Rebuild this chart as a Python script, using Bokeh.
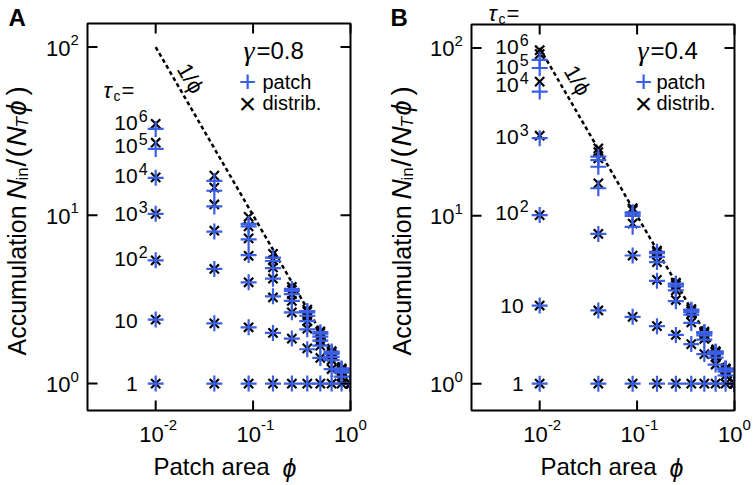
import math
from bokeh.plotting import figure
from bokeh.layouts import row
from bokeh.models import Range1d, Label
from bokeh.embed import file_html
from bokeh.resources import INLINE

# ---------------- data ----------------
phi = [0.01, 0.04, 0.09, 0.16, 0.25, 0.36, 0.49, 0.64, 0.81, 1.0]
tau_c = ["1", "10", "1e2", "1e3", "1e4", "1e5", "1e6"]

# panel A, gamma = 0.8
a_distrib = {
    "1":   [1.0, 1.0, 1.0, 1.0, 1.0, 1.0, 1.0, 1.0, 1.0, 1.0],
    "10":  [2.4, 2.28, 2.16, 2.0, 1.85, 1.62, 1.42, 1.22, 1.1, 1.0],
    "1e2": [5.4, 4.8, 4.0, 3.25, 2.65, 2.12, 1.68, 1.38, 1.16, 1.0],
    "1e3": [10.2, 8.1, 5.75, 4.2, 3.1, 2.35, 1.8, 1.45, 1.19, 1.0],
    "1e4": [16.8, 11.6, 7.3, 4.9, 3.4, 2.55, 1.92, 1.5, 1.21, 1.0],
    "1e5": [27.0, 14.6, 8.6, 5.4, 3.6, 2.68, 2.0, 1.54, 1.22, 1.0],
    "1e6": [35.0, 17.2, 9.8, 5.9, 3.75, 2.75, 2.04, 1.56, 1.23, 1.0],
}
a_patch = {
    "1":   [1.0, 1.0, 1.0, 1.0, 1.0, 1.0, 1.0, 1.0, 1.0, 1.0],
    "10":  [2.4, 2.28, 2.16, 2.0, 1.85, 1.6, 1.42, 1.22, 1.1, 1.0],
    "1e2": [5.4, 4.8, 4.0, 3.3, 2.65, 2.1, 1.68, 1.38, 1.16, 1.0],
    "1e3": [10.2, 8.0, 5.8, 4.2, 3.1, 2.35, 1.8, 1.44, 1.19, 1.0],
    "1e4": [16.7, 11.3, 7.2, 4.85, 3.4, 2.53, 1.9, 1.5, 1.2, 1.0],
    "1e5": [24.8, 14.0, 8.6, 5.35, 3.55, 2.65, 1.98, 1.53, 1.22, 1.0],
    "1e6": [32.6, 16.0, 8.9, 5.6, 3.65, 2.7, 2.02, 1.55, 1.23, 1.0],
}
# panel B, gamma = 0.4
b_distrib = {
    "1":   [1.0, 1.0, 1.0, 1.0, 1.0, 1.0, 1.0, 1.0, 1.0, 1.0],
    "10":  [2.92, 2.73, 2.5, 2.2, 1.95, 1.72, 1.5, 1.3, 1.12, 1.0],
    "1e2": [10.1, 7.8, 5.8, 4.15, 3.15, 2.32, 1.85, 1.44, 1.18, 1.0],
    "1e3": [30.0, 15.6, 9.0, 5.3, 3.6, 2.6, 1.95, 1.5, 1.21, 1.0],
    "1e4": [63.0, 22.0, 10.8, 5.9, 3.85, 2.7, 2.0, 1.54, 1.22, 1.0],
    "1e5": [92.0, 24.0, 11.0, 6.1, 3.95, 2.76, 2.03, 1.55, 1.23, 1.0],
    "1e6": [97.0, 25.2, 11.1, 6.2, 4.0, 2.78, 2.04, 1.56, 1.23, 1.0],
}
b_patch = {
    "1":   [1.0, 1.0, 1.0, 1.0, 1.0, 1.0, 1.0, 1.0, 1.0, 1.0],
    "10":  [2.92, 2.73, 2.5, 2.2, 1.95, 1.72, 1.5, 1.3, 1.12, 1.0],
    "1e2": [10.1, 7.8, 5.8, 4.1, 3.1, 2.3, 1.83, 1.43, 1.18, 1.0],
    "1e3": [29.0, 14.6, 8.6, 5.3, 3.6, 2.58, 1.94, 1.5, 1.21, 1.0],
    "1e4": [55.0, 19.6, 10.0, 5.7, 3.8, 2.68, 1.99, 1.53, 1.22, 1.0],
    "1e5": [76.0, 21.5, 10.3, 6.0, 3.9, 2.74, 2.02, 1.55, 1.23, 1.0],
    "1e6": [85.0, 22.5, 10.5, 6.1, 3.95, 2.76, 2.03, 1.55, 1.23, 1.0],
}

# tau_c value labels: base, exponent, and their vertical positions (data units)
tau_base = ["1", "10", "10", "10", "10", "10", "10"]
tau_exp = ["", "", "2", "3", "4", "5", "6"]
a_label_y = [1.0, 2.37, 5.5, 10.2, 17.1, 25.8, 35.4]
b_label_y = [1.0, 2.92, 10.4, 29.5, 60.0, 77.0, 102.0]

ref_line_x = [0.01, 1.0]          # 1/phi reference line
x_ticks = [0.01, 0.1, 1.0]
x_tick_exp = ["-2", "-1", "0"]
y_ticks = [1.0, 10.0, 100.0]
y_tick_exp = ["0", "1", "2"]

# axes box limits (data units)
XMIN, XMAX = 10 ** -2.7, 1.0
YMIN, YMAX = 10 ** -0.16, 10 ** 2.14
LOG_XMIN, LOG_XMAX, LOG_YMIN, LOG_YMAX = -2.7, 0.0, -0.16, 2.14

W, H = 378, 485
BLUE = "#3a5ee4"
FONT = "Liberation Sans"


def make_panel(letter, gamma, distrib, patch, label_y, geo):
    fl, fr, ft, fb = geo["frame"]
    dx = (fr - fl) / (LOG_XMAX - LOG_XMIN)
    dy = (fb - ft) / (LOG_YMAX - LOG_YMIN)
    x0 = 10 ** (LOG_XMIN - fl / dx)
    x1 = 10 ** (LOG_XMAX + (W - fr) / dx)
    y0 = 10 ** (LOG_YMIN - (H - fb) / dy)
    y1 = 10 ** (LOG_YMAX + ft / dy)

    p = figure(width=W, height=H, x_axis_type="log", y_axis_type="log",
               x_axis_location=None, y_axis_location=None,
               x_range=Range1d(x0, x1), y_range=Range1d(y0, y1),
               output_backend="svg", toolbar_location=None,
               min_border_left=0, min_border_right=0,
               min_border_top=0, min_border_bottom=0)
    p.grid.visible = False
    p.outline_line_color = None
    p.background_fill_color = "white"
    p.border_fill_color = "white"

    # 1/phi reference line
    p.line(ref_line_x, [1.0 / v for v in ref_line_x], line_color="black",
           line_width=2.5, line_dash="4 3")

    # distributed (x) first, patch (+) on top
    for t in tau_c:
        p.scatter(phi, distrib[t], marker="x", size=13, line_color="black",
                  line_width=2.2)
    for t in tau_c:
        p.scatter(phi, patch[t], marker="cross", size=16, line_color=BLUE,
                  line_width=2.2)

    # clip marks at the right edge of the axes box
    p.quad(left=[XMAX], right=[x1], bottom=[y0], top=[y1],
           fill_color="white", line_color=None)

    # axes box and inward ticks
    p.quad(left=[XMIN], right=[XMAX], bottom=[YMIN], top=[YMAX],
           fill_color=None, line_color="black", line_width=2)
    tick_kw = dict(length=10, length_units="screen", line_color="black",
                   line_width=2)
    p.ray(x=x_ticks, y=[YMIN] * 3, angle=math.pi / 2, **tick_kw)
    p.ray(x=x_ticks, y=[YMAX] * 3, angle=-math.pi / 2, **tick_kw)
    p.ray(x=[XMIN] * 3, y=y_ticks, angle=0.0, **tick_kw)
    p.ray(x=[XMAX] * 3, y=y_ticks, angle=math.pi, **tick_kw)

    def add(**kw):
        kw.setdefault("text_font", FONT)
        kw.setdefault("text_color", "black")
        kw.setdefault("text_baseline", "middle")
        p.add_layout(Label(**kw))

    # tick labels
    for t, e in zip(x_ticks, x_tick_exp):
        add(x=t, y=YMIN, x_offset=8, y_offset=-24, text="10",
            text_font_size="22px", text_align="right")
        add(x=t, y=YMIN, x_offset=8, y_offset=-14, text=e,
            text_font_size="15px", text_align="left")
    for t, e in zip(y_ticks, y_tick_exp):
        add(x=XMIN, y=t, x_offset=geo["ytl"], y_offset=-1, text="10",
            text_font_size="22px", text_align="right")
        add(x=XMIN, y=t, x_offset=geo["ytl"], y_offset=7, text=e,
            text_font_size="15px", text_align="left")

    def lab(px, py, text, size=24, font=FONT, style="normal", color="black",
            align="left", angle=0.0):
        # (px, py): canvas position of the text's anchor, vertical middle
        add(x=XMIN, y=YMIN, x_offset=px - fl, y_offset=fb - py, text=text,
            text_font=font, text_font_size=f"{size}px", text_font_style=style,
            text_color=color, text_align=align, angle=angle)

    # tau_c value labels
    for b, e, yv in zip(tau_base, tau_exp, label_y):
        if e:
            add(x=0.01, y=yv, x_offset=geo["bx"], text=b, text_font_size="21px",
                text_align="right")
            add(x=0.01, y=yv, x_offset=geo["bx"] + 1, y_offset=7, text=e,
                text_font_size="16px", text_align="left")
        else:
            add(x=0.01, y=yv, x_offset=geo["px"], text=b, text_font_size="21px",
                text_align="right")

    # tau_c =
    tx, ty = geo["tau"]
    lab(tx, ty, "τ", size=22, style="italic")
    lab(tx + 10, ty + 5, "c", size=14)
    lab(tx + 18, ty, "=", size=22)

    # 1/phi annotation
    lx, ly = geo["oneover"]
    lab(lx, ly, "1/ϕ", size=22, align="center", angle=-math.pi / 3)

    # gamma and legend
    gx, gx2 = geo["gamma"]
    lab(gx, 50, "γ", size=28, font="Liberation Serif", style="italic")
    lab(gx2, 50, "=" + gamma, size=24)
    mx, tx2 = geo["leg"]
    lab(mx, 81, "+", size=30, color=BLUE, align="center")
    lab(tx2, 81, "patch", size=20)
    lab(mx, 103, "×", size=30, align="center")
    lab(tx2, 102, "distrib.", size=20)

    # panel letter
    lab(geo["letter_x"], 17, letter, size=24, style="bold")

    # y axis label, rotated pieces (bottom to top)
    bx = geo["ylab_x"]
    ang = math.pi / 2
    lab(bx, 355, "Accumulation", size=25, angle=ang)
    lab(bx, 199, "N", size=28, style="italic", angle=ang)
    lab(bx + 6, 180, "in", size=17, angle=ang)
    lab(bx, 166, "/", size=28, angle=ang)
    lab(bx, 157, "(", size=28, angle=ang)
    lab(bx, 146, "N", size=28, style="italic", angle=ang)
    lab(bx + 6, 127, "T", size=17, style="italic", angle=ang)
    lab(bx, 115, "ϕ", size=27, style="italic", angle=ang)
    lab(bx, 95, ")", size=28, angle=ang)

    # x axis label
    xl = geo["xlab_x"]
    lab(xl, 466, "Patch area", size=24)
    lab(xl + 129, 467, "ϕ", size=25, style="italic")
    return p


geoA = dict(frame=(87, 350, 23, 410), ytl=-17, bx=-18, px=-18,
            tau=(103, 90), oneover=(190, 78), gamma=(243, 256), leg=(247, 262),
            letter_x=8, ylab_x=16, xlab_x=153)
geoB = dict(frame=(93, 356, 24, 410), ytl=-17, bx=-21, px=-16,
            tau=(110, 13), oneover=(199, 80), gamma=(259, 272), leg=(265, 278),
            letter_x=12, ylab_x=23, xlab_x=162)

pA = make_panel("A", "0.8", a_distrib, a_patch, a_label_y, geoA)
pB = make_panel("B", "0.4", b_distrib, b_patch, b_label_y, geoB)

layout = row(pA, pB)
open("out.html", "w").write(file_html(layout, INLINE))
